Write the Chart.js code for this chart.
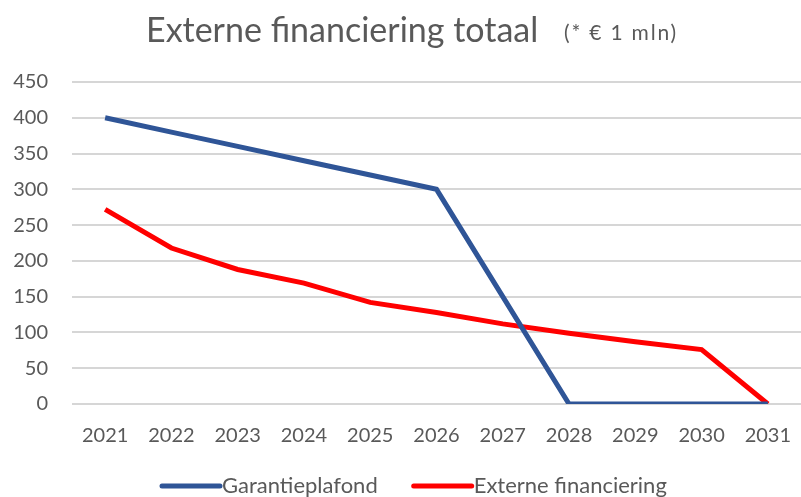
<!DOCTYPE html>
<html>
<head>
<meta charset="utf-8">
<script src="https://cdn.jsdelivr.net/npm/chart.js@4"></script>
<style>
  html, body { margin: 0; padding: 0; background: #fff; }
  #wrap { width: 801px; height: 497px; position: relative; }
</style>
</head>
<body>
<div id="wrap"><canvas id="chart-financiering"></canvas></div>
<script>
(function () {
  "use strict";

  var YEARS = ["2021", "2022", "2023", "2024", "2025", "2026", "2027", "2028", "2029", "2030", "2031"];
  var GARANTIEPLAFOND = [400, 380, 360, 340, 320, 300, 150, 0, 0, 0, 0];
  var EXTERNE_FINANCIERING = [272, 218, 188, 169, 142, 128, 112, 99, 87, 76, 0];
  var Y_TICKS = [0, 50, 100, 150, 200, 250, 300, 350, 400, 450];

  var TEXT = "#595959";
  var FONT = "Lato, 'Open Sans', sans-serif";

  /* ── Title with mixed sizes ─────────────────── */

  var titlePlugin = {
    id: "mixedTitle",
    afterDraw: function (chart) {
      var ctx = chart.ctx;
      ctx.save();
      ctx.fillStyle = TEXT;
      ctx.textBaseline = "alphabetic";
      ctx.textAlign = "left";
      ctx.font = "34px " + FONT;
      ctx.fillText("Externe financiering totaal", 146, 42);
      ctx.font = "21px " + FONT;
      ctx.letterSpacing = "1.8px";
      ctx.fillText("(* \u20ac 1 mln)", 564, 40);
      ctx.restore();
    }
  };

  /* ── Legend: line swatch butted against its label ── */

  var legendPlugin = {
    id: "lineLegend",
    afterDraw: function (chart) {
      var ctx = chart.ctx;
      var y = 486;
      var x = 162;
      ctx.save();
      ctx.font = "22px " + FONT;
      ctx.textBaseline = "middle";
      ctx.textAlign = "left";
      chart.data.datasets.forEach(function (ds) {
        ctx.strokeStyle = ds.borderColor;
        ctx.lineWidth = 5;
        ctx.lineCap = "round";
        ctx.beginPath();
        ctx.moveTo(x, y);
        ctx.lineTo(x + 58, y);
        ctx.stroke();
        ctx.fillStyle = TEXT;
        ctx.fillText(ds.label, x + 60, y);
        x += 60 + ctx.measureText(ds.label).width + 36;
      });
      ctx.restore();
    }
  };

  new Chart(document.getElementById("chart-financiering"), {
    type: "line",
    data: {
      labels: YEARS,
      datasets: [{
        label: "Garantieplafond",
        data: GARANTIEPLAFOND,
        borderColor: "#2f5597",
        backgroundColor: "#2f5597",
        borderWidth: 5,
        pointRadius: 0,
        tension: 0
      }, {
        label: "Externe financiering",
        data: EXTERNE_FINANCIERING,
        borderColor: "#ff0000",
        backgroundColor: "#ff0000",
        borderWidth: 5,
        pointRadius: 0,
        tension: 0
      }]
    },
    options: {
      responsive: true,
      maintainAspectRatio: false,
      animation: false,
      layout: { autoPadding: false, padding: { top: 82, left: 13, right: 0, bottom: 49 } },
      scales: {
        x: {
          offset: true,
          afterFit: function (axis) {
            axis.height = 44;
            axis.paddingLeft = 0;
            axis.paddingRight = 0;
          },
          grid: { display: false, drawTicks: false },
          border: { display: false },
          ticks: { color: TEXT, padding: 20, maxRotation: 0, font: { size: 20, family: FONT } }
        },
        y: {
          min: 0,
          max: 450,
          afterFit: function (axis) { axis.width = 59; },
          afterBuildTicks: function (axis) {
            axis.ticks = Y_TICKS.map(function (v) { return { value: v }; });
          },
          grid: { color: "#d6d6d6", lineWidth: 2, drawTicks: false },
          border: { display: false },
          ticks: { color: TEXT, padding: 24, font: { size: 20, family: FONT } }
        }
      },
      plugins: {
        legend: { display: false },
        tooltip: { enabled: false }
      }
    },
    plugins: [titlePlugin, legendPlugin]
  });
})();
</script>
</body>
</html>
